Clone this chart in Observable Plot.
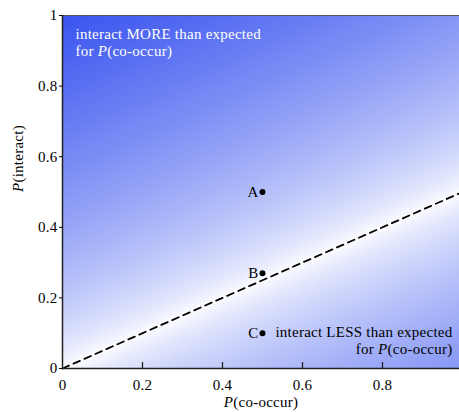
<!DOCTYPE html>
<html><head><meta charset="utf-8">
<script src="https://cdn.jsdelivr.net/npm/d3@7"></script>
<script src="https://cdn.jsdelivr.net/npm/@observablehq/plot@0.6"></script>
<style>body{margin:0;background:#fff} svg text{letter-spacing:0.25px}</style>
</head><body><div id="chart"></div>
<script>
const xTicks = [0, 0.2, 0.4, 0.6, 0.8];
const yTicks = [0, 0.2, 0.4, 0.6, 0.8, 1];
const pointLabels = ["A", "B", "C"];
const coOccur = [0.5, 0.5, 0.5];
const interact = [0.5, 0.27, 0.1];
const expectedX = [0, 0.99];
const expectedY = [0, 0.495];
const xLabel = "P(co-occur)";
const yLabel = "P(interact)";
const moreLines = ["interact MORE than expected", "for P(co-occur)"];
const lessLines = ["interact LESS than expected", "for P(co-occur)"];

const points = pointLabels.map((l, i) => ({label: l, x: coOccur[i], y: interact[i]}));
const expected = expectedX.map((x, i) => ({x, y: expectedY[i]}));
const font = "Liberation Serif, serif";
const fs = 15;

const svg = Plot.plot({
  width: 459, height: 412,
  marginLeft: 62, marginRight: 0, marginTop: 15, marginBottom: 44,
  style: {fontFamily: font, fontSize: fs + "px", background: "white"},
  x: {domain: [0, 0.9925]},
  y: {domain: [0, 1]},
  color: {type: "pow", exponent: 0.7, domain: [0, 1], range: ["#ffffff", "#3a55ef"], interpolate: "rgb"},
  marks: [
    Plot.raster({x1: 0, x2: 0.9925, y1: 0, y2: 1, pixelSize: 2,
      fill: (x, y) => Math.abs(y - 0.5 * x)}),
    Plot.line(expected, {x: "x", y: "y", stroke: "black", strokeWidth: 1.8, strokeDasharray: "7,5"}),
    Plot.ruleY([1], {stroke: "#555", strokeWidth: 1.2}),
    Plot.ruleX(xTicks.filter(d => d > 0), {x: d => d, y1: 0, y2: 0.017, stroke: "#222", strokeWidth: 1.3}),
    Plot.ruleX([0], {stroke: "#222", strokeWidth: 1.5}),
    Plot.ruleY([0], {stroke: "#222", strokeWidth: 1.5}),
    Plot.axisY(yTicks, {tickSize: 3, tickPadding: 2, fontSize: fs, label: null, tickFormat: d => String(d)}),
    Plot.axisX(xTicks, {tickSize: 0, tickPadding: 11, fontSize: fs, label: null, tickFormat: d => String(d)}),
    Plot.dot(points, {x: "x", y: "y", r: 3, fill: "black"}),
    Plot.text(points, {x: "x", y: "y", text: "label", textAnchor: "end", dx: -4, fontSize: fs, fill: "black"}),
    Plot.text([moreLines[0]], {frameAnchor: "top-left", dx: 13, dy: 13, textAnchor: "start", fill: "white", fontSize: fs}),
    Plot.text([moreLines[1]], {frameAnchor: "top-left", dx: 13, dy: 30, textAnchor: "start", fill: "white", fontSize: fs}),
    Plot.text([lessLines[0]], {frameAnchor: "bottom-right", dx: -7, dy: -32, textAnchor: "end", fill: "black", fontSize: fs}),
    Plot.text([lessLines[1]], {frameAnchor: "bottom-right", dx: -7, dy: -15, textAnchor: "end", fill: "black", fontSize: fs}),
    Plot.text([xLabel], {frameAnchor: "bottom", dy: 38, fontSize: fs, fill: "black"}),
    Plot.text([yLabel], {frameAnchor: "left", dx: -44, rotate: -90, fontSize: fs, fill: "black"})
  ]
});

d3.select(svg).selectAll("text").each(function () {
  const t = this.textContent;
  const i = t.indexOf("P(");
  if (i < 0 || this.querySelector("tspan")) return;
  const sel = d3.select(this);
  sel.text(null);
  if (i > 0) sel.append("tspan").text(t.slice(0, i));
  sel.append("tspan").attr("font-style", "italic").text("P");
  sel.append("tspan").text(t.slice(i + 1));
});
document.getElementById("chart").appendChild(svg);
</script>
</body></html>
